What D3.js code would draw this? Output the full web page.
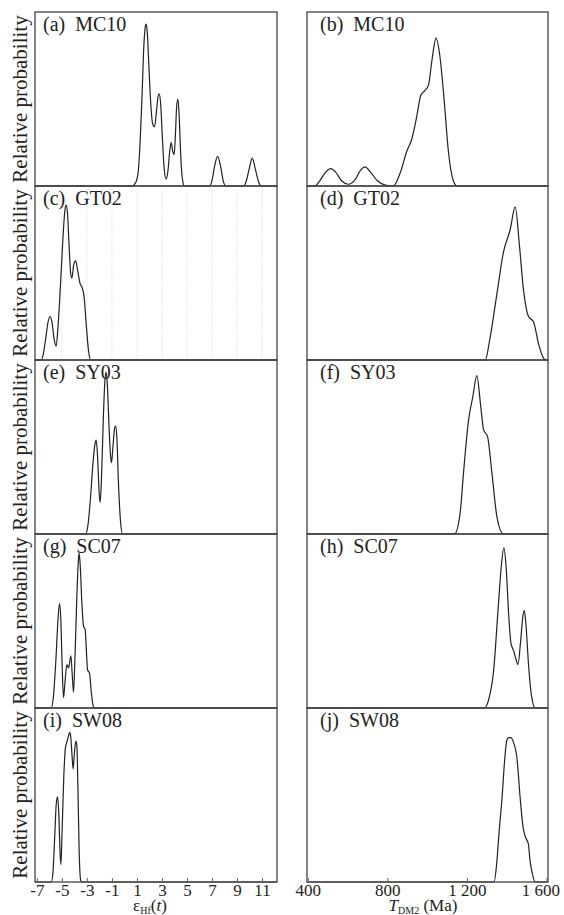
<!DOCTYPE html>
<html>
<head>
<meta charset="utf-8">
<script src="https://cdn.jsdelivr.net/npm/d3@7/dist/d3.min.js"></script>
<style>
  body { margin: 0; background: #fff; }
  svg { display: block; }
  svg text { font-family: "Liberation Serif", Tinos, "Times New Roman", "DejaVu Serif", serif; }
</style>
</head>
<body>
<div id="chart"></div>
<script>
// x-axis ticks
const epsTicks = [-7, -5, -3, -1, 1, 3, 5, 7, 9, 11];
const tdmTicks = [400, 800, 1200, 1600];
const tdmTickLabels = ["400", "800", "1 200", "1 600"];

const sampleNames = ["MC10", "GT02", "SY03", "SC07", "SW08"];
const leftLetters = ["a", "c", "e", "g", "i"];
const rightLetters = ["b", "d", "f", "h", "j"];

// relative probability curves, eps_Hf(t) (x) vs relative height (y)
const mc10Eps = [[-7.15,0],[0.6,0],[0.9,0.02],[1.1,0.08],[1.26,0.26],[1.4,0.5],[1.55,0.8],[1.66,0.91],[1.74,0.93],[1.83,0.88],[1.95,0.7],[2.1,0.48],[2.25,0.36],[2.41,0.34],[2.55,0.42],[2.68,0.51],[2.78,0.53],[2.9,0.47],[3.02,0.3],[3.18,0.1],[3.34,0.04],[3.5,0.1],[3.62,0.2],[3.74,0.25],[3.86,0.2],[3.98,0.18],[4.08,0.3],[4.18,0.46],[4.28,0.5],[4.38,0.4],[4.5,0.18],[4.62,0.05],[4.8,0],[6.8,0],[7.0,0.03],[7.2,0.11],[7.45,0.17],[7.7,0.11],[7.9,0.03],[8.1,0],[9.55,0],[9.75,0.03],[9.98,0.1],[10.22,0.16],[10.46,0.1],[10.7,0.03],[10.92,0],[12.2,0]];
const gt02Eps = [[-7.15,0],[-6.65,0],[-6.5,0.03],[-6.3,0.12],[-6.1,0.22],[-5.94,0.25],[-5.8,0.22],[-5.62,0.12],[-5.46,0.08],[-5.3,0.2],[-5.1,0.45],[-4.9,0.72],[-4.76,0.86],[-4.66,0.89],[-4.55,0.84],[-4.42,0.65],[-4.3,0.5],[-4.2,0.47],[-4.05,0.55],[-3.9,0.57],[-3.75,0.52],[-3.55,0.44],[-3.4,0.42],[-3.22,0.36],[-3.05,0.2],[-2.88,0.06],[-2.7,0],[12.2,0]];
const sy03Eps = [[-7.15,0],[-3.1,0],[-2.9,0.06],[-2.7,0.22],[-2.5,0.42],[-2.35,0.52],[-2.26,0.54],[-2.15,0.45],[-2.03,0.25],[-1.94,0.18],[-1.82,0.35],[-1.68,0.68],[-1.56,0.88],[-1.46,0.93],[-1.36,0.85],[-1.22,0.6],[-1.1,0.44],[-1.03,0.41],[-0.92,0.5],[-0.8,0.6],[-0.71,0.62],[-0.6,0.55],[-0.48,0.3],[-0.32,0.08],[-0.15,0],[12.2,0]];
const sc07Eps = [[-7.15,0],[-5.85,0],[-5.7,0.05],[-5.5,0.25],[-5.3,0.52],[-5.19,0.6],[-5.08,0.5],[-4.97,0.22],[-4.87,0.06],[-4.75,0.15],[-4.6,0.25],[-4.47,0.23],[-4.28,0.3],[-4.18,0.2],[-4.07,0.09],[-3.95,0.3],[-3.8,0.65],[-3.68,0.85],[-3.62,0.89],[-3.52,0.8],[-3.4,0.6],[-3.27,0.47],[-3.14,0.45],[-3.02,0.3],[-2.95,0.22],[-2.79,0.2],[-2.66,0.1],[-2.52,0.02],[-2.42,0],[12.2,0]];
const sw08Eps = [[-7.15,0],[-5.85,0],[-5.72,0.05],[-5.58,0.25],[-5.45,0.45],[-5.35,0.49],[-5.25,0.4],[-5.15,0.18],[-5.08,0.1],[-4.98,0.3],[-4.85,0.6],[-4.72,0.77],[-4.62,0.8],[-4.5,0.83],[-4.38,0.86],[-4.3,0.84],[-4.2,0.74],[-4.1,0.65],[-4.0,0.74],[-3.88,0.81],[-3.8,0.78],[-3.72,0.55],[-3.62,0.18],[-3.52,0.02],[-3.45,0],[12.2,0]];

// relative probability curves, T_DM2 in Ma (x) vs relative height (y)
const mc10Tdm = [[396,0],[436,0],[460,0.03],[490,0.08],[515,0.1],[540,0.08],[570,0.03],[604,0.01],[640,0.04],[665,0.09],[688,0.11],[715,0.08],[750,0.03],[790,0.005],[830,0],[863,0.07],[898,0.2],[923,0.27],[948,0.4],[968,0.52],[990,0.55],[1007,0.58],[1024,0.72],[1045,0.85],[1065,0.74],[1086,0.49],[1107,0.2],[1132,0.03],[1150,0],[1608,0]];
const gt02Tdm = [[396,0],[1292,0],[1317,0.13],[1351,0.38],[1384,0.62],[1418,0.75],[1443,0.88],[1465,0.65],[1485,0.4],[1510,0.25],[1535,0.22],[1561,0.09],[1586,0.01],[1600,0],[1608,0]];
const sy03Tdm = [[396,0],[1138,0],[1166,0.12],[1183,0.35],[1208,0.65],[1230,0.79],[1250,0.91],[1270,0.73],[1284,0.6],[1304,0.56],[1326,0.35],[1351,0.1],[1384,0],[1608,0]];
const sc07Tdm = [[396,0],[1287,0],[1310,0.05],[1334,0.21],[1359,0.6],[1372,0.8],[1386,0.92],[1398,0.8],[1410,0.54],[1422,0.37],[1435,0.33],[1447,0.28],[1457,0.25],[1470,0.38],[1482,0.53],[1489,0.56],[1497,0.48],[1510,0.25],[1525,0.07],[1544,0],[1608,0]];
const sw08Tdm = [[396,0],[1337,0],[1351,0.12],[1363,0.3],[1376,0.47],[1390,0.7],[1400,0.81],[1410,0.83],[1422,0.83],[1432,0.81],[1452,0.71],[1469,0.47],[1482,0.32],[1494,0.26],[1509,0.22],[1518,0.12],[1527,0.06],[1544,0],[1608,0]];

const epsSeries = [mc10Eps, gt02Eps, sy03Eps, sc07Eps, sw08Eps];
const tdmSeries = [mc10Tdm, gt02Tdm, sy03Tdm, sc07Tdm, sw08Tdm];

const W = 564, H = 915;
const top0 = 12, bottom0 = 882;
const rowH = (bottom0 - top0) / 5;
const leftCol = { x0: 35, x1: 277 };
const rightCol = { x0: 307, x1: 548 };

const svg = d3.select("#chart").append("svg")
    .attr("width", W)
    .attr("height", H);

const xEps = d3.scaleLinear().domain([-7.15, 12.2]).range([leftCol.x0, leftCol.x1]);
const xTdm = d3.scaleLinear().domain([396, 1608]).range([rightCol.x0, rightCol.x1]);

const line = d3.line().curve(d3.curveMonotoneX);

function drawPanel(col, xScale, row, data, letter, name, gridTicks) {
    const y0 = top0 + row * rowH;
    const y1 = y0 + rowH;
    const yScale = d3.scaleLinear().domain([0, 1]).range([y1, y0]);
    const g = svg.append("g");

    // faint dotted grid (only panel c has it)
    if (gridTicks) {
        g.selectAll(".grid")
            .data(gridTicks)
            .join("line")
            .attr("x1", d => xScale(d)).attr("x2", d => xScale(d))
            .attr("y1", y0).attr("y2", y1)
            .attr("stroke", "#d8d8d8")
            .attr("stroke-width", 0.8)
            .attr("stroke-dasharray", "1.5,1.5");
    }

    g.append("path")
        .datum(data)
        .attr("fill", "none")
        .attr("stroke", "#222")
        .attr("stroke-width", 1.2)
        .attr("d", line.x(d => xScale(d[0])).y(d => yScale(d[1])));

    g.append("rect")
        .attr("x", col.x0).attr("y", y0)
        .attr("width", col.x1 - col.x0).attr("height", rowH)
        .attr("fill", "none")
        .attr("stroke", "#444")
        .attr("stroke-width", 1.3);

    g.append("text")
        .attr("x", col.x0 + 8 + (col === rightCol ? 5 : 0))
        .attr("y", y0 + 19)
        .style("font-size", "20px")
        .style("fill", "#222")
        .attr("xml:space", "preserve")
        .text(`(${letter})  ${name}`);
}

for (let i = 0; i < 5; i++) {
    drawPanel(leftCol, xEps, i, epsSeries[i], leftLetters[i], sampleNames[i], i === 1 ? epsTicks.slice(1) : null);
    drawPanel(rightCol, xTdm, i, tdmSeries[i], rightLetters[i], sampleNames[i], null);

    svg.append("text")
        .attr("transform", `translate(27,${top0 + i * rowH + rowH / 2}) rotate(-90)`)
        .attr("text-anchor", "middle")
        .style("font-size", "21px")
        .style("fill", "#222")
        .text("Relative probability");
}

// bottom axes
const axisEps = d3.axisBottom(xEps)
    .tickValues(epsTicks)
    .tickFormat(d => String(d))
    .tickSizeInner(-4).tickSizeOuter(0).tickPadding(2);
const axisTdm = d3.axisBottom(xTdm)
    .tickValues(tdmTicks)
    .tickFormat((d, i) => tdmTickLabels[i])
    .tickSizeInner(-4).tickSizeOuter(0).tickPadding(2);

[axisEps, axisTdm].forEach(ax => {
    const ag = svg.append("g")
        .attr("transform", `translate(0,${bottom0})`)
        .call(ax)
        .attr("font-family", null);
    ag.select(".domain").remove();
    ag.selectAll(".tick line").attr("stroke", "#666");
    ag.selectAll(".tick text")
        .style("font-size", "17px")
        .attr("fill", "#222");
});
// keep "1 600" inside the page
svg.selectAll(".tick text").filter(d => d === 1600).attr("dx", -6);

// axis titles
const tEps = svg.append("text")
    .attr("x", 150).attr("y", 911)
    .attr("text-anchor", "middle")
    .style("font-size", "17px")
    .style("fill", "#222");
tEps.append("tspan").text("ε");
tEps.append("tspan").attr("dy", 3).style("font-size", "10px").text("Hf");
tEps.append("tspan").attr("dy", -3).text("(");
tEps.append("tspan").style("font-style", "italic").text("t");
tEps.append("tspan").text(")");

const tTdm = svg.append("text")
    .attr("x", 423).attr("y", 911)
    .attr("text-anchor", "middle")
    .style("font-size", "17px")
    .style("fill", "#222");
tTdm.append("tspan").style("font-style", "italic").text("T");
tTdm.append("tspan").attr("dy", 3).style("font-size", "10px").text("DM2");
tTdm.append("tspan").attr("dy", -3).text(" (Ma)");
</script>
</body>
</html>
